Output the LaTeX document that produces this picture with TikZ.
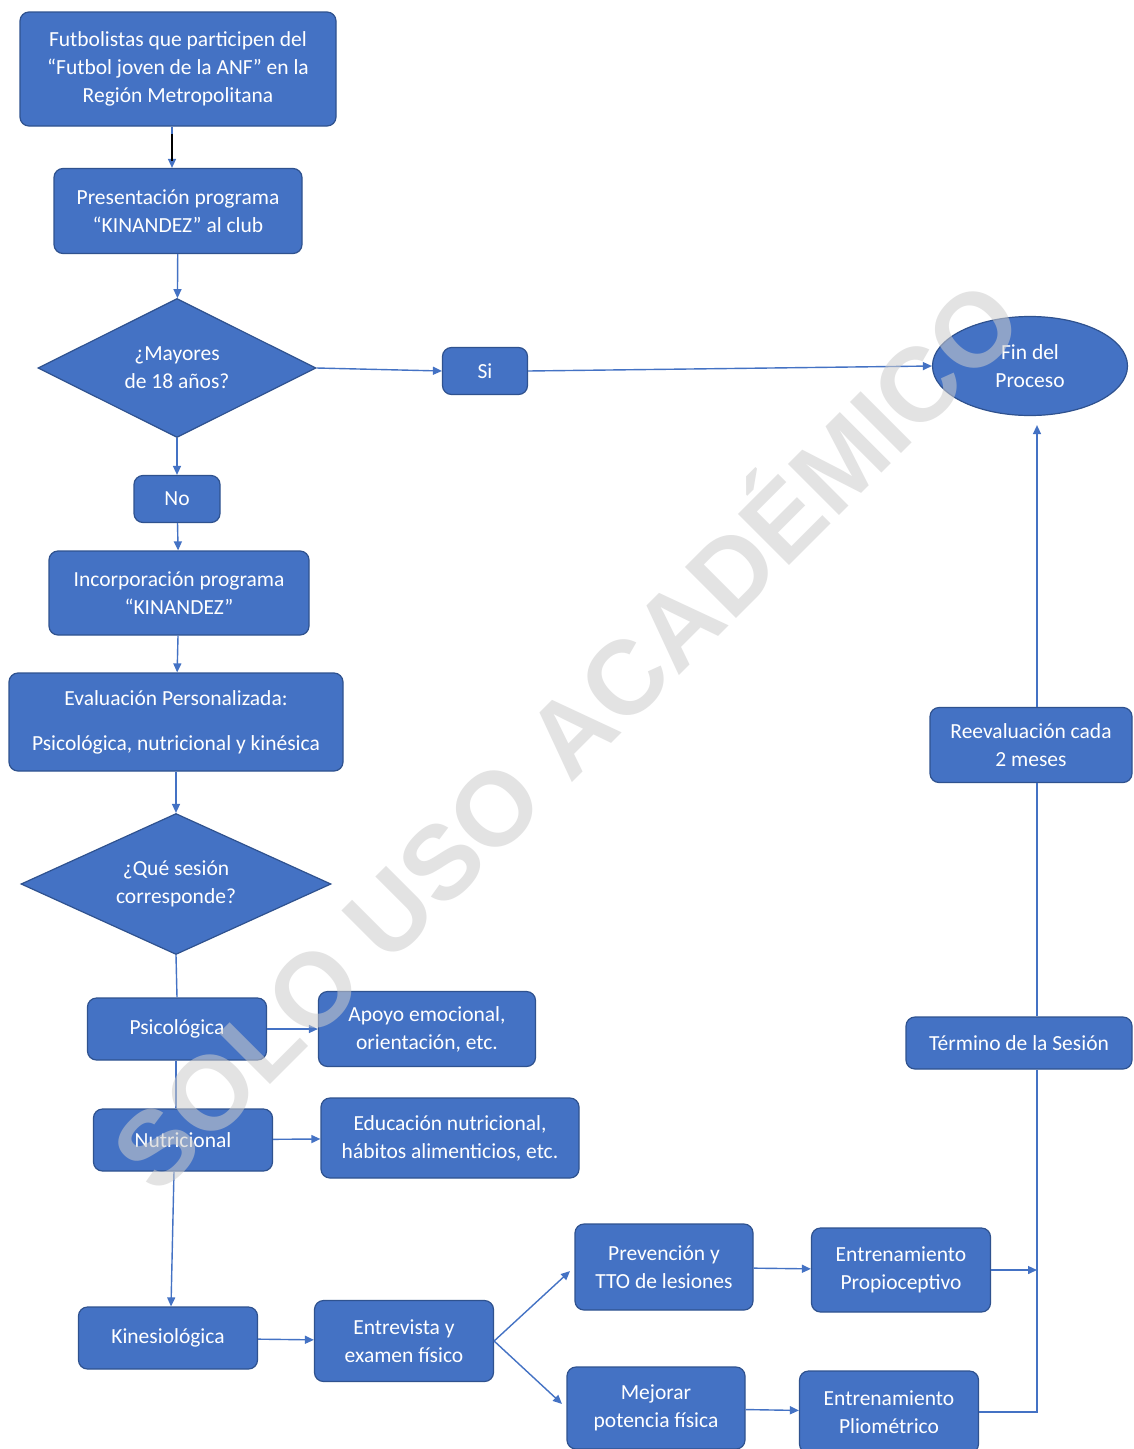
\documentclass[tikz,border=0pt]{standalone}
\usepackage{fontspec}
\setmainfont{Carlito}
\newfontfamily\marcafont{Liberation Sans}
\usetikzlibrary{shapes.geometric,arrows.meta}
\definecolor{azul}{HTML}{4472C4}
\definecolor{borde}{HTML}{2F528F}
\newcommand{\textocaja}{\fontsize{21.5}{28}\selectfont}
\tikzset{
  caja/.style={draw=borde, fill=azul, line width=1.2pt, rounded corners=9pt,
    text=white, align=center, inner sep=0pt, font=\textocaja},
  rombo/.style={caja, diamond, aspect=2.2, rounded corners=0pt},
  elipse/.style={caja, ellipse, rounded corners=0pt},
  flecha/.style={->, draw=azul, line width=1.4pt},
  linea/.style={draw=azul, line width=1.4pt}
}
\begin{document}
\begin{tikzpicture}[x=1pt,y=-1pt,>={Triangle[length=9pt,width=8pt]}]
                        \clip (0,0) rectangle (1133,1449);
                        \fill[white] (0,0) rectangle (1133,1449);
                        \node[caja, minimum width=316pt, minimum height=114pt] (inicio) at (178,69) {Futbolistas que participen del\\“Futbol joven de la ANF” en la\\Región Metropolitana};
                        \node[caja, minimum width=248pt, minimum height=85pt] (present) at (178,211) {Presentación programa\\“KINANDEZ” al club};
                        \node[rombo, minimum width=278pt, minimum height=139pt] (mayores) at (177,368) {¿Mayores\\de 18 años?};
                        \node[caja, minimum width=85pt, minimum height=47pt] (si) at (485,371) {Si};
                        \node[elipse, minimum width=195pt, minimum height=99pt] (fin) at (1030,366) {Fin del\\Proceso};
                        \node[caja, minimum width=86pt, minimum height=47pt] (no) at (177,499) {No};
                        \node[caja, minimum width=260pt, minimum height=84pt] (incorp) at (179,593) {Incorporación programa\\“KINANDEZ”};
                        \node[caja, minimum width=334pt, minimum height=98pt] (evalua) at (176,722) {Evaluación Personalizada:\\[17pt]Psicológica, nutricional y kinésica};
                        \node[rombo, minimum width=310pt, minimum height=141pt] (sesion) at (176,884) {¿Qué sesión\\corresponde?};
                        \node[caja, minimum width=179pt, minimum height=62pt] (psico) at (177,1029) {Psicológica};
                        \node[caja, minimum width=217pt, minimum height=75pt] (apoyo) at (427,1029) {Apoyo emocional,\\orientación, etc.};
                        \node[caja, minimum width=179pt, minimum height=62pt] (nutri) at (183,1140) {Nutricional};
                        \node[caja, minimum width=258pt, minimum height=80pt] (educa) at (450,1138) {Educación nutricional,\\hábitos alimenticios, etc.};
                        \node[caja, minimum width=179pt, minimum height=62pt] (kine) at (168,1338) {Kinesiológica};
                        \node[caja, minimum width=179pt, minimum height=81pt] (entrev) at (404,1341) {Entrevista y\\examen físico};
                        \node[caja, minimum width=178pt, minimum height=86pt] (preven) at (664,1267) {Prevención y\\TTO de lesiones};
                        \node[caja, minimum width=178pt, minimum height=82pt] (mejora) at (656,1408) {Mejorar\\potencia física};
                        \node[caja, minimum width=179pt, minimum height=84pt] (propio) at (901,1270) {Entrenamiento\\Propioceptivo};
                        \node[caja, minimum width=179pt, minimum height=82pt] (plio) at (889,1412) {Entrenamiento\\Pliométrico};
                        \node[caja, minimum width=226pt, minimum height=52pt] (termino) at (1019,1043) {Término de la Sesión};
                        \node[caja, minimum width=202pt, minimum height=75pt] (reeval) at (1031,745) {Reevaluación cada\\2 meses};
                        \coordinate (riel) at (1037,0);
                        \draw[flecha] ([xshift=-6pt]inicio.south) -- ([xshift=-6pt]present.north);
                        \draw[line width=2.2pt] ([xshift=-6pt,yshift=-7pt]inicio.south) -- ++(0,27);
                        \draw[flecha] (present) -- (mayores);
                        \draw[flecha] (mayores.east) -- (si.west);
                        \draw[flecha] (si.east) -- (fin.west);
                        \draw[flecha] (mayores) -- (no);
                        \draw[flecha] (no) -- (incorp);
                        \draw[flecha] (incorp) -- (evalua);
                        \draw[flecha] (evalua) -- (sesion);
                        \draw[linea] (sesion.south) -- (psico.north);
                        \draw[linea] ([xshift=-1pt]psico.south) -- ([xshift=-7pt]nutri.north);
                        \draw[flecha] ([xshift=-9pt]nutri.south) -- ([xshift=3pt]kine.north);
                        \draw[flecha] (psico) -- (apoyo);
                        \draw[flecha] (nutri) -- (educa);
                        \draw[flecha] (kine) -- (entrev);
                        \draw[flecha, shorten >=6pt] (entrev.east) -- (preven.west);
                        \draw[flecha, shorten >=6pt] (entrev.east) -- (mejora.west);
                        \draw[flecha] (preven) -- (propio);
                        \draw[flecha] (mejora) -- (plio);
                        \draw[flecha] (propio.east) -- (riel |- propio.east);
                        \draw[linea] (plio.east) -| (riel |- termino.south);
                        \draw[linea] (riel |- termino.north) -- (riel |- reeval.south);
                        \draw[flecha] (riel |- reeval.north) -- ([yshift=-9pt]riel |- fin.south);
                        \node[rotate=45, anchor=base, text=gray!40, opacity=0.55, font=\marcafont\bfseries\fontsize{105}{105}\selectfont] (marca) at (593,762) {SOLO USO ACADÉMICO};
                     \end{tikzpicture}
\end{document}
